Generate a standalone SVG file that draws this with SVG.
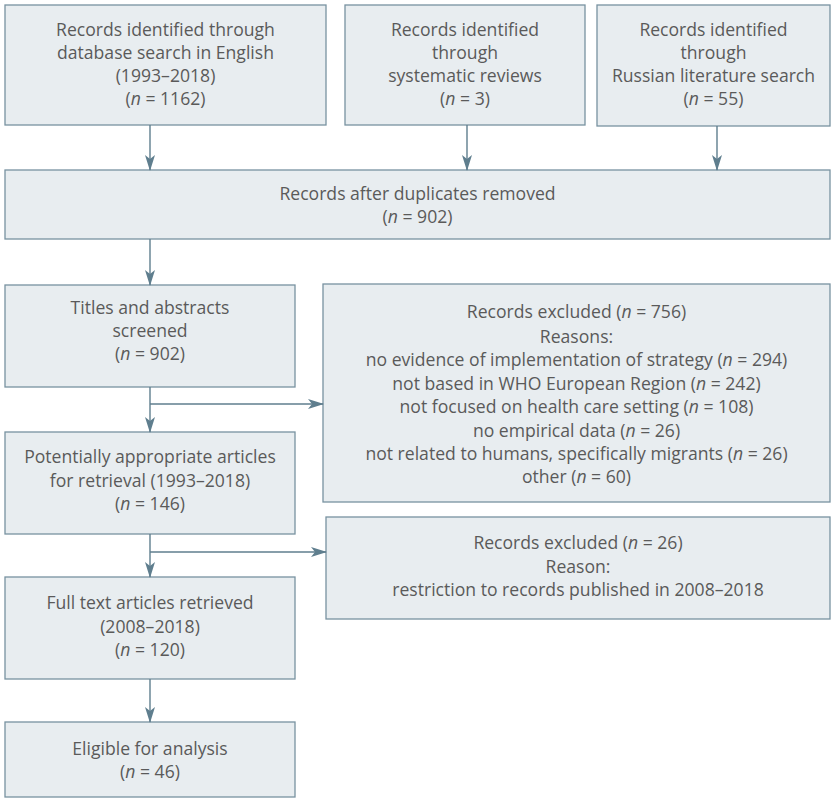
<svg xmlns="http://www.w3.org/2000/svg" width="832" height="798" viewBox="0 0 832 798">
<defs>
<style>
.box{fill:#e8edf0;stroke:#7892a0;stroke-width:1.3}
.t{font-family:"Open Sans","Liberation Sans",sans-serif;font-size:17.6px;fill:#5a5a5a;text-anchor:middle;font-weight:400}
.c{fill:none;stroke:#5f7e8e;stroke-width:1.4}
</style>
<marker id="ah" viewBox="0 0 16 10" refX="15" refY="5" markerWidth="16" markerHeight="10" markerUnits="userSpaceOnUse" orient="auto">
<path d="M0,0 L16,5 L0,10 L4,5 z" fill="#5f7e8e"/>
</marker>
</defs>
<rect width="832" height="798" fill="#fff"/>
<g id="n1"><rect class="box" x="5" y="5" width="321" height="120"/>
<text class="t" x="165.5" y="36">Records identified through</text>
<text class="t" x="165.5" y="59">database search in English</text>
<text class="t" x="165.5" y="82">(1993–2018)</text>
<text class="t" x="165.5" y="105">(<tspan font-style="italic">n</tspan> = 1162)</text></g>
<g id="n2"><rect class="box" x="345" y="5" width="240" height="120"/>
<text class="t" x="465" y="36">Records identified</text>
<text class="t" x="465" y="59">through</text>
<text class="t" x="465" y="82">systematic reviews</text>
<text class="t" x="465" y="105">(<tspan font-style="italic">n</tspan> = 3)</text></g>
<g id="n3"><rect class="box" x="597" y="5" width="233" height="121"/>
<text class="t" x="713.5" y="36">Records identified</text>
<text class="t" x="713.5" y="59">through</text>
<text class="t" x="713.5" y="82">Russian literature search</text>
<text class="t" x="713.5" y="105">(<tspan font-style="italic">n</tspan> = 55)</text></g>
<g id="n4"><rect class="box" x="5" y="170" width="825" height="69"/>
<text class="t" x="417.5" y="200">Records after duplicates removed</text>
<text class="t" x="417.5" y="223">(<tspan font-style="italic">n</tspan> = 902)</text></g>
<g id="n5"><rect class="box" x="5" y="285" width="290" height="102"/>
<text class="t" x="150" y="314">Titles and abstracts</text>
<text class="t" x="150" y="337">screened</text>
<text class="t" x="150" y="360">(<tspan font-style="italic">n</tspan> = 902)</text></g>
<g id="n6"><rect class="box" x="323" y="284" width="507" height="218"/>
<text class="t" x="576.5" y="318">Records excluded (<tspan font-style="italic">n</tspan> = 756)</text>
<text class="t" x="576.5" y="343">Reasons:</text>
<text class="t" x="576.5" y="366">no evidence of implementation of strategy (<tspan font-style="italic">n</tspan> = 294)</text>
<text class="t" x="576.5" y="390">not based in WHO European Region (<tspan font-style="italic">n</tspan> = 242)</text>
<text class="t" x="576.5" y="413">not focused on health care setting (<tspan font-style="italic">n</tspan> = 108)</text>
<text class="t" x="576.5" y="437">no empirical data (<tspan font-style="italic">n</tspan> = 26)</text>
<text class="t" x="576.5" y="460">not related to humans, specifically migrants (<tspan font-style="italic">n</tspan> = 26)</text>
<text class="t" x="576.5" y="483">other (<tspan font-style="italic">n</tspan> = 60)</text></g>
<g id="n7"><rect class="box" x="5" y="432" width="290" height="102"/>
<text class="t" x="150" y="463">Potentially appropriate articles</text>
<text class="t" x="150" y="487">for retrieval (1993–2018)</text>
<text class="t" x="150" y="510">(<tspan font-style="italic">n</tspan> = 146)</text></g>
<g id="n8"><rect class="box" x="326" y="517" width="504" height="102"/>
<text class="t" x="578" y="549">Records excluded (<tspan font-style="italic">n</tspan> = 26)</text>
<text class="t" x="578" y="573">Reason:</text>
<text class="t" x="578" y="596">restriction to records published in 2008–2018</text></g>
<g id="n9"><rect class="box" x="5" y="577" width="290" height="102"/>
<text class="t" x="150" y="609">Full text articles retrieved</text>
<text class="t" x="150" y="633">(2008–2018)</text>
<text class="t" x="150" y="656">(<tspan font-style="italic">n</tspan> = 120)</text></g>
<g id="n10"><rect class="box" x="5" y="722" width="290" height="75"/>
<text class="t" x="150" y="755">Eligible for analysis</text>
<text class="t" x="150" y="778">(<tspan font-style="italic">n</tspan> = 46)</text></g>
<g id="connectors">
<line class="c" x1="150" y1="125" x2="150" y2="170" marker-end="url(#ah)"/>
<line class="c" x1="467" y1="125" x2="467" y2="170" marker-end="url(#ah)"/>
<line class="c" x1="717" y1="126" x2="717" y2="170" marker-end="url(#ah)"/>
<line class="c" x1="150" y1="239" x2="150" y2="285" marker-end="url(#ah)"/>
<line class="c" x1="150" y1="387" x2="150" y2="432" marker-end="url(#ah)"/>
<line class="c" x1="150" y1="404" x2="323" y2="404" marker-end="url(#ah)"/>
<line class="c" x1="150" y1="534" x2="150" y2="577" marker-end="url(#ah)"/>
<line class="c" x1="150" y1="552" x2="326" y2="552" marker-end="url(#ah)"/>
<line class="c" x1="150" y1="679" x2="150" y2="722" marker-end="url(#ah)"/>
</g>
</svg>
